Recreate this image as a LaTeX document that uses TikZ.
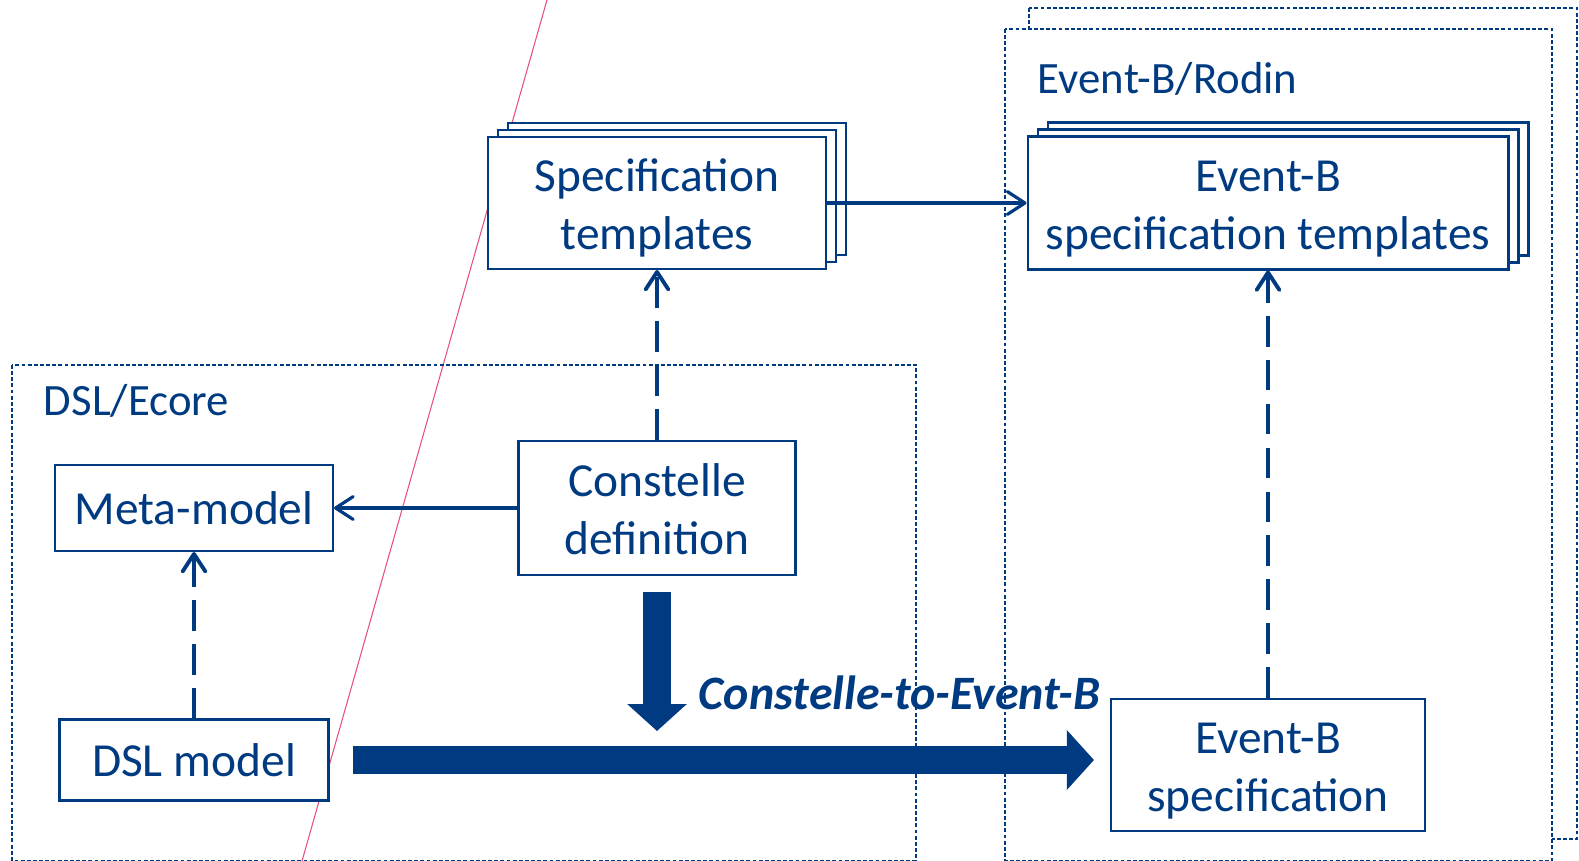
\documentclass[tikz,border=0pt]{standalone}
\usepackage{fontspec}
\setmainfont{Carlito}
\usetikzlibrary{arrows.meta, positioning, calc, shadows}
\definecolor{cblue}{HTML}{003B82}
\definecolor{cpink}{HTML}{E8507A}
\newcommand{\lnstrut}{\rule[-5pt]{0pt}{30pt}}
\tikzset{
  every picture/.style={line width=1.1pt},
  box/.style={draw=cblue, fill=white, line width=1.2pt, align=center, inner sep=0pt, text=cblue, font=\fontsize{27}{32.6}\selectfont},
  stack/.style={box, copy shadow={shadow xshift=0.4cm, shadow yshift=0.28cm}, copy shadow={shadow xshift=0.2cm, shadow yshift=0.14cm}},
  group/.style={draw=cblue, line width=0.8pt, dash pattern=on 2.2pt off 1.3pt},
  grouplabel/.style={text=cblue, anchor=west, inner sep=0pt, font=\fontsize{25.5}{30}\selectfont},
  arrow/.style={-{Straight Barb[length=10pt, width=13pt, round]}, draw=cblue, line width=1.8pt},
  dasharrow/.style={arrow, line width=2.2pt, dash pattern=on 17.5pt off 7.5pt},
  fat/.style={draw=cblue, line width=0.56cm, -{Triangle[length=0.54cm, width=1.16cm]}},
}
\begin{document}
\begin{tikzpicture}[x=0.02cm, y=-0.02cm]
  \useasboundingbox (0,0) rectangle (1579,861);
  % stray guide line
  \draw[cpink, line width=0.6pt] (547,0) -- (302,861);
  % groups
  \draw[group, fill=white] (1029,8) rectangle (1577,839);
  \draw[group, fill=white] (1005,29) rectangle (1552,860.5);
  \draw[group] (12,365) rectangle (916,860.5);
  \node[grouplabel] (dsllbl) at (43,401) {DSL/Ecore};
  \node[grouplabel] (rodinlbl) at (1037,79) {Event-B/Rodin};
  % artefacts
  \node[box, minimum width=5.56cm, minimum height=1.72cm] (meta) at (194,508) {Meta-model};
  \node[box, minimum width=5.38cm, minimum height=1.62cm] (dslm) at (194,760) {DSL model};
  \node[box, minimum width=5.54cm, minimum height=2.68cm] (cdef) at (657,508) {\lnstrut Constelle\\\lnstrut definition};
  \node[stack, minimum width=6.76cm, minimum height=2.64cm] (spec) at (657,203) {\lnstrut Specification\\\lnstrut templates};
  \node[stack, minimum width=9.62cm, minimum height=2.66cm] (ebtpl) at (1268,203) {\lnstrut Event-B\\\lnstrut specification templates};
  \node[box, minimum width=6.28cm, minimum height=2.64cm] (ebspec) at (1268,765) {\lnstrut Event-B\\\lnstrut specification};
  % relations
  \draw[arrow] (cdef) -- (meta);
  \draw[arrow] (spec) -- (ebtpl);
  \draw[dasharrow] (cdef) -- (spec);
  \draw[dasharrow] (dslm) -- (meta);
  \draw[dasharrow] (ebspec) -- (ebtpl);
  % transformation
  \draw[fat] ([yshift=-0.32cm]cdef.south) -- ++(0,139);
  \draw[fat] ([xshift=0.46cm]dslm.east) -- ($(dslm.east -| ebspec.west)+(-16,0)$);
  \node[text=cblue, anchor=west, inner sep=0pt, font=\fontsize{27.3}{32}\selectfont\bfseries\itshape] (c2eb) at (698,693) {Constelle-to-Event-B};
\end{tikzpicture}
\end{document}
